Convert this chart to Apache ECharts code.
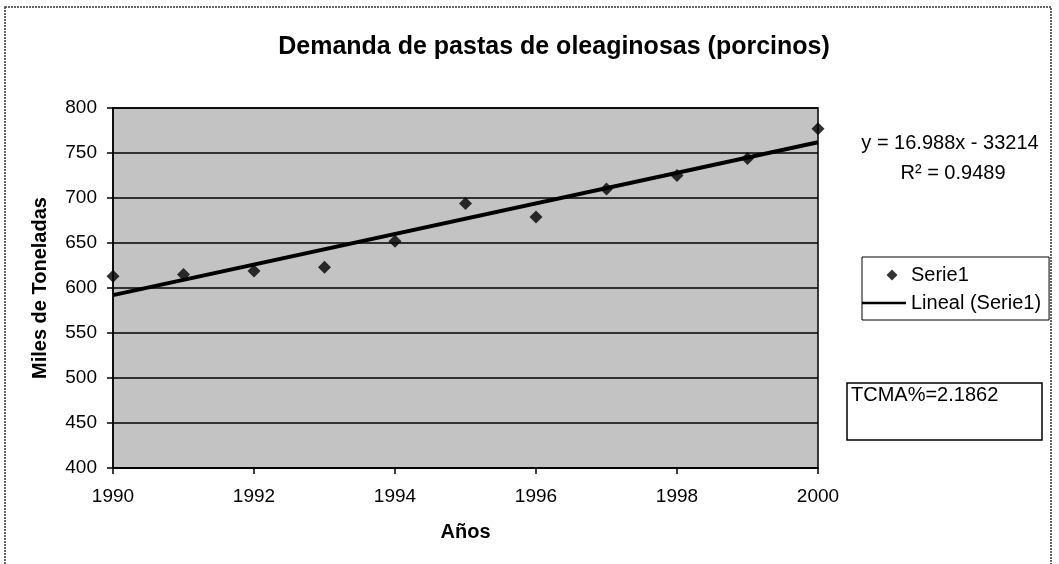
<!DOCTYPE html>
<html>
<head>
<meta charset="utf-8">
<script src="https://cdn.jsdelivr.net/npm/echarts@6/dist/echarts.min.js"></script>
<style>
html,body{margin:0;padding:0;background:#fff;}
#c{width:1059px;height:564px;}
</style>
</head>
<body>
<div id="c"></div>
<script>
// ---- data ----
const years = [1990, 1991, 1992, 1993, 1994, 1995, 1996, 1997, 1998, 1999, 2000];
const demand = [613, 615, 619, 623, 652, 694, 679, 710, 725, 744, 777];
const trendYears = [1990, 2000];
const trendValues = [592.1, 762.0];   // from y = 16.988x - 33214
const yTicks = [400, 450, 500, 550, 600, 650, 700, 750, 800];
const xTicks = [1990, 1992, 1994, 1996, 1998, 2000];
const titleText = 'Demanda de pastas de oleaginosas (porcinos)';
const equationText = 'y = 16.988x - 33214';
const r2Text = 'R² = 0.9489';
const tcmaText = 'TCMA%=2.1862';

const FONT = '"Liberation Sans", Arial, sans-serif';
const chart = echarts.init(document.getElementById('c'), null, {renderer: 'canvas'});

const option = {
  backgroundColor: '#ffffff',
  animation: false,
  title: {
    text: titleText,
    left: 549,
    textAlign: 'center',
    top: 30,
    textStyle: {fontFamily: FONT, fontWeight: 'bold', fontSize: 25, color: '#000'}
  },
  grid: {
    left: 113, right: 241, top: 108, bottom: 96,
    show: true,
    backgroundColor: '#c3c3c3',
    borderColor: '#000',
    borderWidth: 1.5
  },
  legend: {
    orient: 'vertical',
    left: 862,
    top: 257,
    padding: [8, 8, 7, 0],
    itemWidth: 44,
    itemHeight: 14,
    itemGap: 8,
    borderColor: '#000',
    borderWidth: 1,
    textStyle: {fontFamily: FONT, fontSize: 20, color: '#000'},
    data: [
      {name: 'Serie1', icon: 'path://M0,0M44,14M30,1.5L35.5,7L30,12.5L24.5,7Z'},
      {name: 'Lineal (Serie1)', icon: 'path://M0,6H44V8.5H0Z'}
    ]
  },
  xAxis: {
    type: 'value',
    min: xTicks[0],
    max: xTicks[xTicks.length - 1],
    interval: 2,
    name: 'Años',
    nameLocation: 'middle',
    nameGap: 54,
    nameTextStyle: {fontFamily: FONT, fontWeight: 'bold', fontSize: 20, color: '#000'},
    axisLine: {show: true, lineStyle: {color: '#000', width: 1.5}},
    axisTick: {show: true, inside: false, length: 6, lineStyle: {color: '#000', width: 1.5}},
    axisLabel: {fontFamily: FONT, fontSize: 19, color: '#000', margin: 19, formatter: v => String(v)},
    splitLine: {show: false}
  },
  yAxis: {
    type: 'value',
    min: yTicks[0],
    max: yTicks[yTicks.length - 1],
    interval: 50,
    name: 'Miles de Toneladas',
    nameLocation: 'middle',
    nameGap: 63,
    nameTextStyle: {fontFamily: FONT, fontWeight: 'bold', fontSize: 20, color: '#000'},
    axisLine: {show: true, lineStyle: {color: '#000', width: 1.5}},
    axisTick: {show: true, inside: false, length: 6, lineStyle: {color: '#000', width: 1.5}},
    axisLabel: {fontFamily: FONT, fontSize: 19, color: '#000', margin: 16},
    splitLine: {show: true, lineStyle: {color: '#000', width: 1.5}}
  },
  series: [
    {
      name: 'Serie1',
      type: 'scatter',
      symbol: 'diamond',
      symbolSize: 13,
      itemStyle: {color: '#000'},
      data: years.map((y, i) => [y, demand[i]]),
      z: 4
    },
    {
      name: 'Lineal (Serie1)',
      type: 'line',
      symbol: 'none',
      showSymbol: false,
      lineStyle: {color: '#000', width: 4},
      itemStyle: {color: '#000'},
      data: trendYears.map((y, i) => [y, trendValues[i]]),
      z: 3
    }
  ],
  graphic: [
    {
      type: 'rect',
      shape: {x: 5, y: 7, width: 1046, height: 620},
      style: {fill: 'none', stroke: '#333', lineWidth: 1.5, lineDash: [2, 1]},
      silent: true, z: -1
    },
    {
      type: 'text',
      x: 950, y: 143,
      style: {text: equationText, font: '20px ' + FONT, fill: '#000', textAlign: 'center', textVerticalAlign: 'middle'}
    },
    {
      type: 'text',
      x: 953, y: 173,
      style: {text: r2Text, font: '20px ' + FONT, fill: '#000', textAlign: 'center', textVerticalAlign: 'middle'}
    },
    {
      type: 'rect',
      shape: {x: 847, y: 383, width: 195, height: 57},
      style: {fill: '#fff', stroke: '#000', lineWidth: 1.5}
    },
    {
      type: 'text',
      x: 851, y: 395,
      style: {text: tcmaText, font: '20px ' + FONT, fill: '#000', textAlign: 'left', textVerticalAlign: 'middle'},
      z: 10
    }
  ]
};
chart.setOption(option);
</script>
</body>
</html>
